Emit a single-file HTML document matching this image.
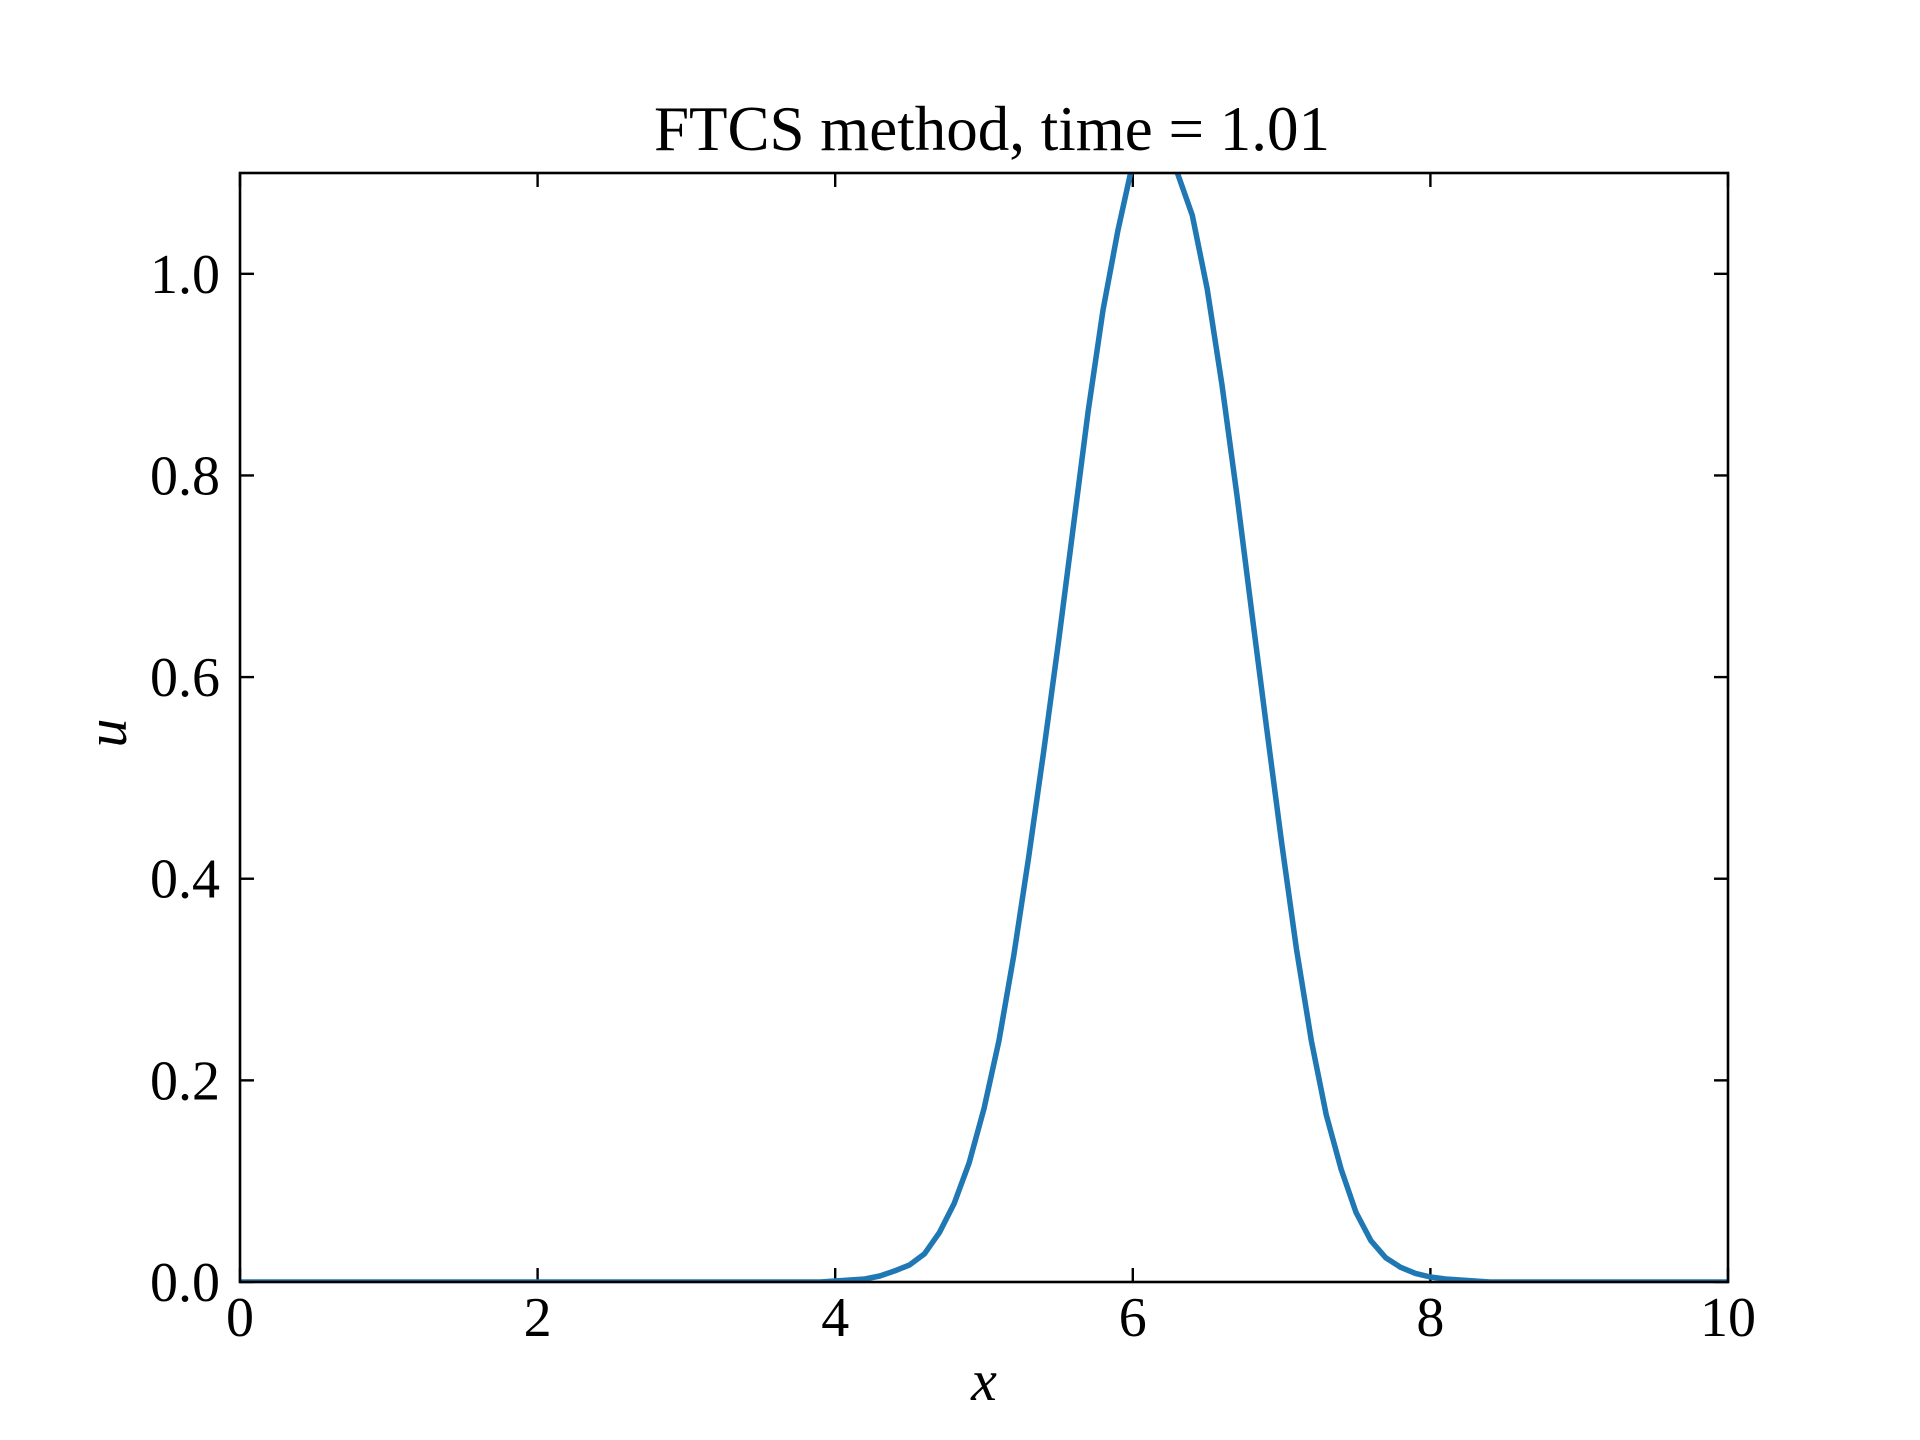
<!DOCTYPE html>
<html><head><meta charset="utf-8"><style>
html,body{margin:0;padding:0;background:#fff;}
svg{display:block;}
text{font-family:"Liberation Serif",serif;fill:#000;}
</style></head><body>
<svg id="chart" width="1920" height="1440" viewBox="0 0 1920 1440">
<defs><clipPath id="clip"><rect x="240" y="173" width="1488" height="1109"/></clipPath></defs>
<rect x="0" y="0" width="1920" height="1440" fill="#fff"/>
<text x="992" y="150" font-size="63" text-anchor="middle">FTCS method, time = 1.01</text>
<g id="ticks"></g>
<path id="curve" clip-path="url(#clip)" fill="none" stroke="#1f77b4" stroke-width="5.5" stroke-linejoin="round" stroke-linecap="round"/>
<rect x="240" y="173" width="1488" height="1109" fill="none" stroke="#000" stroke-width="2.6"/>
<text x="984" y="1400" font-size="58" font-style="italic" text-anchor="middle">x</text>
<text x="0" y="0" font-size="58" font-style="italic" text-anchor="middle" transform="translate(126,733) rotate(-90)">u</text>
</svg>
<script>
const xValues = [0,3.9,4.0,4.1,4.2,4.3,4.4,4.5,4.6,4.7,4.8,4.9,5.0,5.1,5.2,5.3,5.4,5.5,5.6,5.7,5.8,5.9,6.0,6.1,6.2,6.3,6.4,6.5,6.6,6.7,6.8,6.9,7.0,7.1,7.2,7.3,7.4,7.5,7.6,7.7,7.8,7.9,8.0,8.1,8.2,8.3,8.4,10];
const uValues = [0,0,0.001,0.002,0.003,0.006,0.011,0.017,0.028,0.049,0.078,0.118,0.172,0.239,0.324,0.421,0.525,0.634,0.749,0.864,0.964,1.043,1.11,1.17,1.17,1.10,1.058,0.985,0.889,0.78,0.664,0.549,0.436,0.330,0.239,0.166,0.112,0.069,0.041,0.024,0.0146,0.0085,0.005,0.003,0.002,0.001,0,0];
const xTicks = [0,2,4,6,8,10];
const xTickLabels = ["0","2","4","6","8","10"];
const yTicks = [0,0.2,0.4,0.6,0.8,1.0];
const yTickLabels = ["0.0","0.2","0.4","0.6","0.8","1.0"];
const L=240,R=1728,T=173,B=1282,XMAX=10,YMAX=1.1;
function sx(v){return L+(R-L)*v/XMAX;}
function sy(v){return B-(B-T)*v/YMAX;}
const NS="http://www.w3.org/2000/svg";
const g=document.getElementById('ticks');
function line(x1,y1,x2,y2,name){const l=document.createElementNS(NS,'line');
l.setAttribute('x1',x1);l.setAttribute('y1',y1);l.setAttribute('x2',x2);l.setAttribute('y2',y2);
l.setAttribute('stroke','#000');l.setAttribute('stroke-width','2.4');


g.appendChild(l);}
function label(x,y,s,anchor,name){const t=document.createElementNS(NS,'text');
t.setAttribute('x',x);t.setAttribute('y',y);t.setAttribute('font-size','56');t.setAttribute('text-anchor',anchor);t.textContent=s;


g.appendChild(t);}
xTicks.forEach((v,i)=>{const x=sx(v);
line(x,B,x,B-14,'x-tick');line(x,T,x,T+14,'x-tick-top');
label(x,1336,xTickLabels[i],'middle','x-tick-label');});
yTicks.forEach((v,i)=>{const y=sy(v);
line(L,y,L+14,y,'y-tick');line(R,y,R-14,y,'y-tick-right');
label(220,y+19,yTickLabels[i],'end','y-tick-label');});
document.getElementById('curve').setAttribute('d',xValues.map((v,i)=>(i?'L':'M')+sx(v).toFixed(1)+' '+sy(uValues[i]).toFixed(1)).join(' '));
</script>
</body></html>
